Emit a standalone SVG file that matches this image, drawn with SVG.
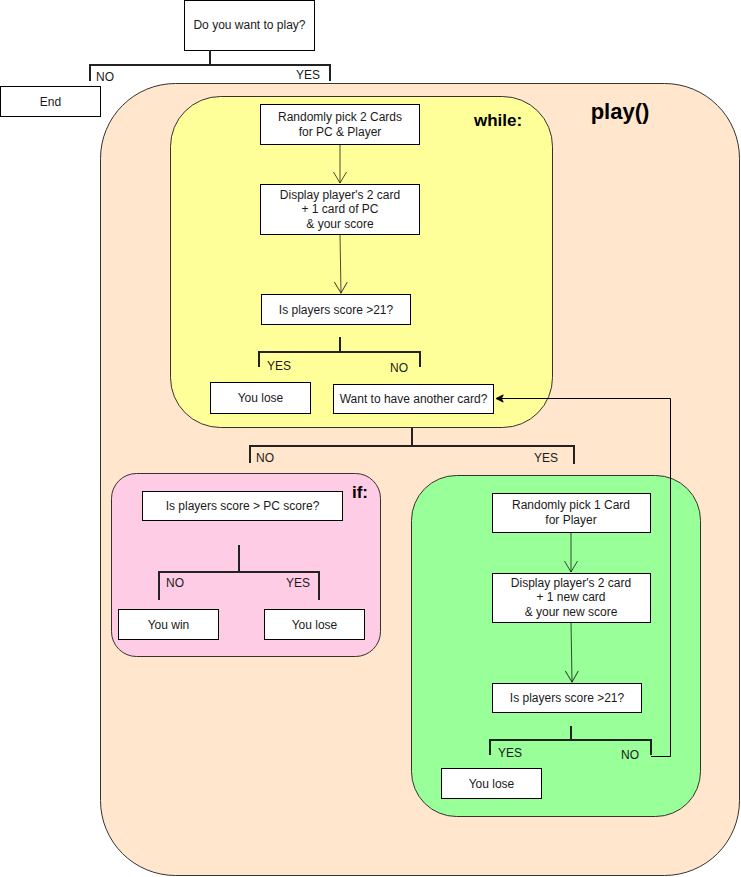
<svg xmlns="http://www.w3.org/2000/svg" width="741" height="877" viewBox="0 0 741 877">
<style>
text{font-family:"Liberation Sans",Arial,sans-serif;font-size:12px;fill:#1a1a1a}
.c{text-anchor:middle}
.box{fill:#fff;stroke:#000;stroke-width:1}
.br{fill:none;stroke:#222;stroke-width:2}
.ar{fill:none;stroke:#000;stroke-opacity:0.7;stroke-width:1}
.h{font-weight:bold;fill:#000}
</style>
<defs>
<marker id="open" viewBox="0 0 14 14" refX="12" refY="7" markerWidth="14" markerHeight="14" markerUnits="userSpaceOnUse" orient="auto">
<path d="M1,0.5 L12,7 L1,13.5" fill="none" stroke="#000" stroke-opacity="0.7" stroke-width="1"/>
</marker>
<marker id="fill" viewBox="0 0 10 10" refX="9" refY="5" markerWidth="9" markerHeight="9" markerUnits="userSpaceOnUse" orient="auto">
<path d="M1,1 L9,5 L1,9 L3,5 Z" fill="#000" stroke="#000"/>
</marker>
</defs>
<g id="play-container">
<rect x="100.5" y="83.5" width="639" height="792" rx="75" ry="75" fill="#FFE6CC" stroke="#333"/>
<text x="620" y="119" class="c h" style="font-size:22px">play()</text>
</g>
<g id="while-container">
<rect x="170.5" y="96.5" width="382" height="331" rx="50" ry="50" fill="#FFFF99" stroke="#333"/>
<text x="498" y="126" class="c h" style="font-size:17px">while:</text>
</g>
<g id="if-container">
<rect x="111.5" y="473.5" width="269" height="183" rx="25" ry="25" fill="#FFCCE6" stroke="#333"/>
<text x="360" y="498" class="c h" style="font-size:17px">if:</text>
</g>
<g id="else-container">
<rect x="411.5" y="475.5" width="289" height="341" rx="45" ry="45" fill="#99FF99" stroke="#333"/>
</g>
<g id="start">
<rect class="box" x="184.5" y="0.5" width="130" height="50"/>
<text x="249.5" y="29" class="c">Do you want to play?</text>
</g>
<g id="end">
<rect class="box" x="0.5" y="86.5" width="100" height="30"/>
<text x="50.5" y="105.5" class="c">End</text>
</g>
<g id="pick2">
<rect class="box" x="260.5" y="104.5" width="159" height="40"/>
<text x="340" y="120.5" class="c">Randomly pick 2 Cards</text>
<text x="340" y="135.5" class="c">for PC &amp; Player</text>
</g>
<g id="display1">
<rect class="box" x="260.5" y="184.5" width="159" height="50"/>
<text x="340" y="198.5" class="c">Display player's 2 card</text>
<text x="340" y="213" class="c">+ 1 card of PC</text>
<text x="340" y="227.5" class="c">&amp; your score</text>
</g>
<g id="check1">
<rect class="box" x="261.5" y="294.5" width="149" height="30"/>
<text x="336" y="313.5" class="c">Is players score &gt;21?</text>
</g>
<g id="lose1">
<rect class="box" x="210.5" y="382.5" width="100" height="31"/>
<text x="260.5" y="401.5" class="c">You lose</text>
</g>
<g id="another">
<rect class="box" x="333.5" y="384.5" width="160" height="29"/>
<text x="413.5" y="403" class="c">Want to have another card?</text>
</g>
<g id="compare">
<rect class="box" x="142.5" y="491.5" width="200" height="29"/>
<text x="242.5" y="510" class="c">Is players score &gt; PC score?</text>
</g>
<g id="win">
<rect class="box" x="118.5" y="609.5" width="100" height="30"/>
<text x="168.5" y="628.5" class="c">You win</text>
</g>
<g id="lose2">
<rect class="box" x="264.5" y="609.5" width="100" height="30"/>
<text x="314.5" y="628.5" class="c">You lose</text>
</g>
<g id="pick1">
<rect class="box" x="492.5" y="493.5" width="158" height="39"/>
<text x="571" y="509" class="c">Randomly pick 1 Card</text>
<text x="571" y="524" class="c">for Player</text>
</g>
<g id="display2">
<rect class="box" x="492.5" y="573.5" width="158" height="49"/>
<text x="571" y="587" class="c">Display player's 2 card</text>
<text x="571" y="601" class="c">+ 1 new card</text>
<text x="571" y="616" class="c">&amp; your new score</text>
</g>
<g id="check2">
<rect class="box" x="492.5" y="683.5" width="149" height="29"/>
<text x="567" y="702" class="c">Is players score &gt;21?</text>
</g>
<g id="lose3">
<rect class="box" x="441.5" y="768.5" width="100" height="30"/>
<text x="491.5" y="787.5" class="c">You lose</text>
</g>
<g id="connectors">
<path class="br" d="M210,50 V65 M90,81 V65 H330 V81"/>
<text x="96" y="81">NO</text>
<text x="296" y="79">YES</text>
<path class="ar" d="M340,144 V183" marker-end="url(#open)"/>
<path class="ar" d="M340,234 L341,293" marker-end="url(#open)"/>
<path class="br" d="M340,337 V352 M259,367 V352 H420 V367"/>
<text x="267" y="370">YES</text>
<text x="390" y="372">NO</text>
<path class="br" d="M412,428 V446 M250,463 V446 H574 V464"/>
<text x="256" y="462">NO</text>
<text x="534" y="462">YES</text>
<path class="br" d="M239,545 V572 M159,600 V572 H319 V600"/>
<text x="166" y="587">NO</text>
<text x="286" y="587">YES</text>
<path class="ar" d="M571,532 V572" marker-end="url(#open)"/>
<path class="ar" d="M571,622 L572,682" marker-end="url(#open)"/>
<path class="br" d="M571,726 V740 M490,755 V740 H651 V755"/>
<text x="498" y="757">YES</text>
<text x="621" y="759">NO</text>
<path d="M651,756.5 H670.5 V398.5 H496" fill="none" stroke="#000" stroke-width="1" marker-end="url(#fill)"/>
</g>
</svg>
